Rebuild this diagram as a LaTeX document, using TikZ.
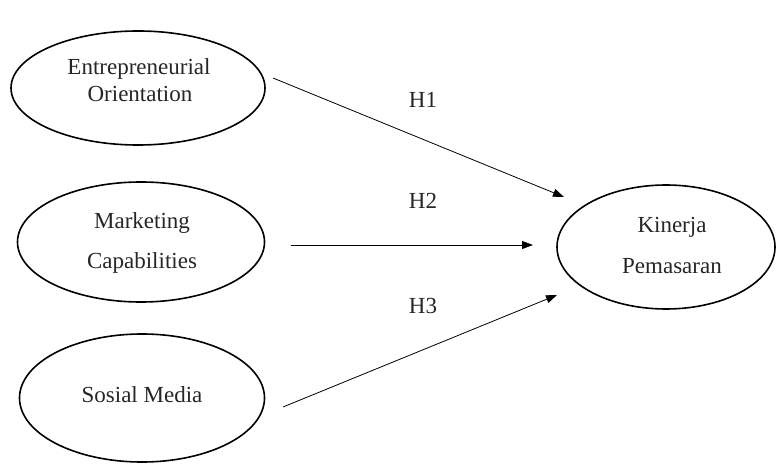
\documentclass[tikz,border=0pt]{standalone}
\usepackage{fontspec}
\setmainfont{Liberation Serif}
\usetikzlibrary{shapes.geometric, arrows.meta}
\begin{document}
\begin{tikzpicture}[x=1pt,y=-1pt,
 oval/.style={draw, ellipse, line width=1.6pt, inner sep=0pt},
 txt/.style={font=\fontsize{23}{27}\selectfont, inner sep=0pt, anchor=base, text=black!85},
 arr/.style={-{Triangle[length=11pt,width=8pt]}, line width=0.8pt}]
\useasboundingbox (0,0) rectangle (776,465);
\node[oval, minimum width=254pt, minimum height=114pt] (eo) at (138,88) {};
\node[oval, minimum width=247pt, minimum height=120pt] (mc) at (141,242) {};
\node[oval, minimum width=245pt, minimum height=128pt] (sm) at (142,398) {};
\node[oval, minimum width=218pt, minimum height=124pt] (kp) at (666,247) {};
\node[txt] (eo1) at (139,75) {Entrepreneurial};
\node[txt] (eo2) at (140,102) {Orientation};
\node[txt] (mc1) at (142,228) {Marketing};
\node[txt] (mc2) at (142,268) {Capabilities};
\node[txt] (sm1) at (142,402) {Sosial Media};
\node[txt] (kp1) at (672,233) {Kinerja};
\node[txt] (kp2) at (672,273) {Pemasaran};
\node[txt] (h1) at (423,108) {H1};
\node[txt] (h2) at (423,208) {H2};
\node[txt] (h3) at (423,313) {H3};
\coordinate (a1) at (273,78);
\coordinate (b1) at (564,197);
\coordinate (a2) at (291,245);
\coordinate (b2) at (533,245);
\coordinate (a3) at (283,407);
\coordinate (b3) at (557,295);
\draw[arr] (a1) -- (b1);
\draw[arr] (a2) -- (b2);
\draw[arr] (a3) -- (b3);
\end{tikzpicture}
\end{document}
